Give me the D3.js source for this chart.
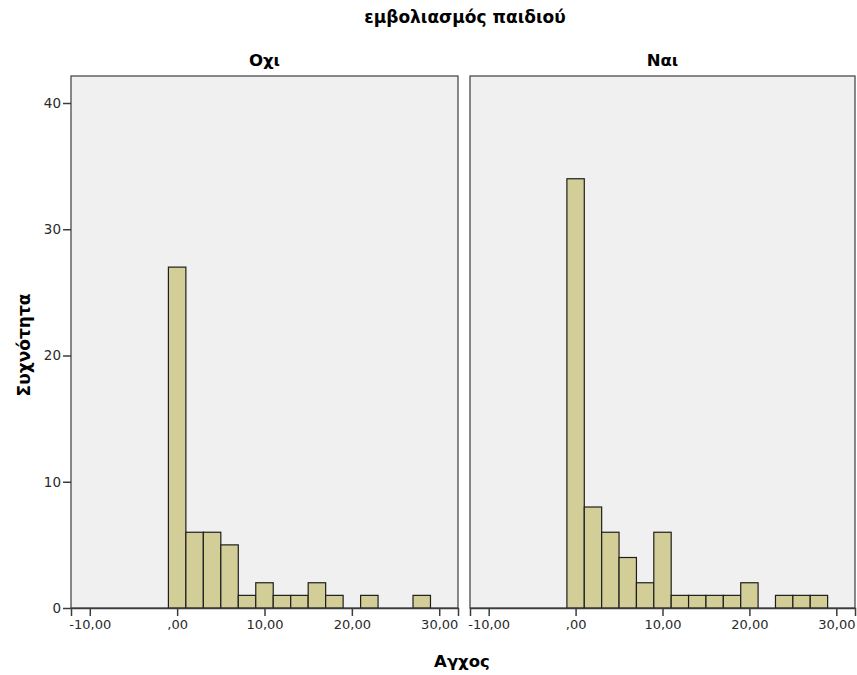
<!DOCTYPE html>
<html>
<head>
<meta charset="utf-8">
<script src="https://cdn.jsdelivr.net/npm/d3@7"></script>
<style>
  body { margin: 0; background: #fff; }
  text { font-family: "DejaVu Sans", Verdana, sans-serif; }
</style>
</head>
<body>
<div id="chart"></div>
<script>
    // histogram bins (width 2, starting at -1)
    const binStarts = [-1, 1, 3, 5, 7, 9, 11, 13, 15, 17, 19, 21, 23, 25, 27];
    const countsNo  = [27, 6, 6, 5, 1, 2, 1, 1, 2, 1, 0, 1, 0, 0, 1];
    const countsYes = [34, 8, 6, 4, 2, 6, 1, 1, 1, 1, 2, 0, 1, 1, 1];
    const panelNames = ["Οχι", "Ναι"];
    const xTicks = [-10, 0, 10, 20, 30];
    const yTicks = [0, 10, 20, 30, 40];
    const binWidth = 2;

    const W = 857, H = 675;
    const svg = d3.select("#chart").append("svg")
        .attr("width", W)
        .attr("height", H);

    const plotTop = 76, plotBottom = 608;
    const panels = [
        { name: panelNames[0], counts: countsNo, x0: 71, x1: 458 },
        { name: panelNames[1], counts: countsYes, x0: 470, x1: 855 }
    ];

    const y = d3.scaleLinear()
        .domain([0, 40])
        .range([plotBottom, 103]);

    // overall title
    svg.append("text")
        .attr("x", 465)
        .attr("y", 23)
        .attr("text-anchor", "middle")
        .style("font-size", "17px")
        .style("font-weight", "bold")
        .text("εμβολιασμός παιδιού");

    panels.forEach((p, i) => {
        const x = d3.scaleLinear()
            .domain([-12.15, 32.15])
            .range([p.x0, p.x1]);

        // panel background
        svg.append("rect")
            .attr("x", p.x0)
            .attr("y", plotTop)
            .attr("width", p.x1 - p.x0)
            .attr("height", plotBottom - plotTop)
            .attr("fill", "#f0f0f0")
            .attr("stroke", "#3c3c3c")
            .attr("stroke-width", 1.2);

        // panel title
        svg.append("text")
            .attr("x", (p.x0 + p.x1) / 2)
            .attr("y", 66)
            .attr("text-anchor", "middle")
            .style("font-size", "16.5px")
            .style("font-weight", "bold")
            .text(p.name);

        // bars
        svg.selectAll(".bar" + i)
            .data(binStarts.map((s, k) => ({ s: s, c: p.counts[k] })).filter(d => d.c > 0))
            .enter()
            .append("rect")
                .attr("class", "bar" + i)
                .attr("x", d => x(d.s))
                .attr("y", d => y(d.c))
                .attr("width", d => x(d.s + binWidth) - x(d.s))
                .attr("height", d => y(0) - y(d.c))
                .attr("fill", "#d3ce97")
                .attr("stroke", "#1e1e1e")
                .attr("stroke-width", 1.2);

        // x axis
        svg.append("g")
            .attr("transform", `translate(0,${plotBottom})`)
            .call(d3.axisBottom(x)
                .tickValues(xTicks)
                .tickSize(8)
                .tickPadding(4)
                .tickFormat(d => d === 0 ? ",00" : d3.format(".2f")(d).replace(".", ",").replace("−", "-")))
            .call(g => g.select(".domain").attr("stroke", "#3c3c3c").attr("stroke-width", 1.5))
            .call(g => g.selectAll(".tick line").attr("stroke", "#3c3c3c").attr("stroke-width", 1.5))
            .call(g => g.selectAll(".tick text")
                .attr("fill", "#2a2a2a")
                .style("font-family", "DejaVu Sans, Verdana, sans-serif")
                .style("font-size", "13px"));

        if (i === 0) {
            svg.append("g")
                .attr("transform", `translate(${p.x0},0)`)
                .call(d3.axisLeft(y)
                    .tickValues(yTicks)
                    .tickSize(8)
                    .tickPadding(2))
                .call(g => g.select(".domain").remove())
                .call(g => g.selectAll(".tick line").attr("stroke", "#3c3c3c").attr("stroke-width", 1.5))
                .call(g => g.selectAll(".tick text")
                    .attr("fill", "#2a2a2a")
                    .style("font-family", "DejaVu Sans, Verdana, sans-serif")
                    .style("font-size", "13.5px"));
        }
    });

    // axis titles
    svg.append("text")
        .attr("x", 462)
        .attr("y", 667)
        .attr("text-anchor", "middle")
        .style("font-size", "16.5px")
        .style("font-weight", "bold")
        .text("Αγχος");

    svg.append("text")
        .attr("transform", "translate(30,345) rotate(-90)")
        .attr("text-anchor", "middle")
        .style("font-size", "17px")
        .style("font-weight", "bold")
        .text("Συχνότητα");
</script>
</body>
</html>
